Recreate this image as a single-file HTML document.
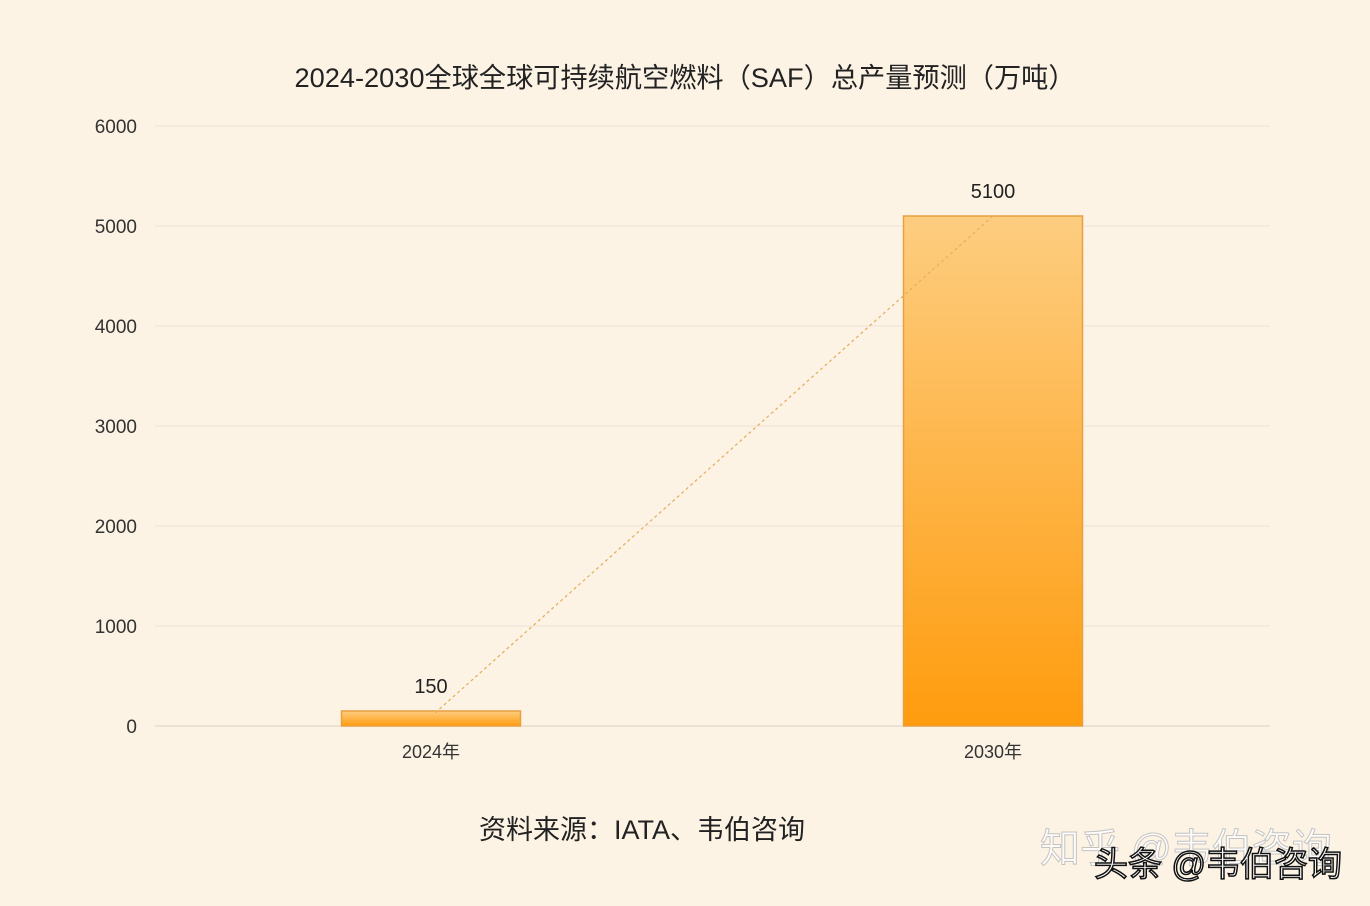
<!DOCTYPE html>
<html><head><meta charset="utf-8">
<style>
body{margin:0;background:#fcf3e5;}
svg{display:block;font-family:"Liberation Sans","Noto Sans CJK SC",sans-serif;}
</style></head>
<body>
<svg id="chart" width="1370" height="906">
<defs>
<linearGradient id="bg" x1="0" y1="0" x2="0" y2="1">
<stop offset="0" stop-color="#fdcd80"/><stop offset="1" stop-color="#ff9c0e"/>
</linearGradient>
</defs>
<rect width="1370" height="906" fill="#fcf3e5"/>
<text x="685" y="87" font-size="27.2" text-anchor="middle" fill="#222">2024-2030全球全球可持续航空燃料（SAF）总产量预测（万吨）</text>
<g id="grid"></g>
<g id="bars"></g>
<text x="642" y="839" font-size="27" text-anchor="middle" fill="#222">资料来源：IATA、韦伯咨询</text>
<text x="1040" y="862" font-size="40" fill="#ffffff" stroke="#bbb" stroke-width="1" opacity="0.85">知乎 @韦伯咨询</text>
<text x="1094" y="876" font-size="34" fill="#fff" stroke="#111" stroke-width="1.5">头条 @韦伯咨询</text>
</svg>
<script>
const categories=["2024年","2030年"];
const values=[150,5100];
const ticks=[0,1000,2000,3000,4000,5000,6000];
const ns="http://www.w3.org/2000/svg";
const x0=155,x1=1270,yTop=126,yBot=726,vmax=6000;
const y=v=>yBot-(v/vmax)*(yBot-yTop);
const xc=i=>431+i*562;
function mk(t,a,p){const e=document.createElementNS(ns,t);for(const k in a)e.setAttribute(k,a[k]);(p||document.getElementById('chart')).appendChild(e);return e;}
const g=document.getElementById('grid'),b=document.getElementById('bars');
ticks.forEach(t=>{
 const l=mk('line',{x1:x0,x2:x1,y1:y(t),y2:y(t),stroke:t==0?'#d8d0c4':'#ece3d4','stroke-width':1},g);
 
 
 const tx=mk('text',{x:137,y:y(t)+7,'font-size':19,'text-anchor':'end',fill:'#333'},g);
 tx.textContent=t;
 
 
});
const bw=179;
categories.forEach((c,i)=>{
 const cx=xc(i);
 const r=mk('rect',{x:cx-bw/2,y:y(values[i]),width:bw,height:yBot-y(values[i]),fill:'url(#bg)',stroke:'#e8a040','stroke-width':1.5},b);
 
 
 const v=mk('text',{x:cx,y:y(values[i])-18,'font-size':20,'text-anchor':'middle',fill:'#222'},b);
 v.textContent=values[i];
 
 
 const xl=mk('text',{x:cx,y:758,'font-size':18,'text-anchor':'middle',fill:'#333'},b);
 xl.textContent=c;
 
 
});
const tl=mk('line',{x1:xc(0)+4,y1:y(values[0])+2,x2:xc(1),y2:y(values[1]),stroke:'#e6b060','stroke-width':1.3,'stroke-dasharray':'3,3'},b);


</script>
</body></html>
